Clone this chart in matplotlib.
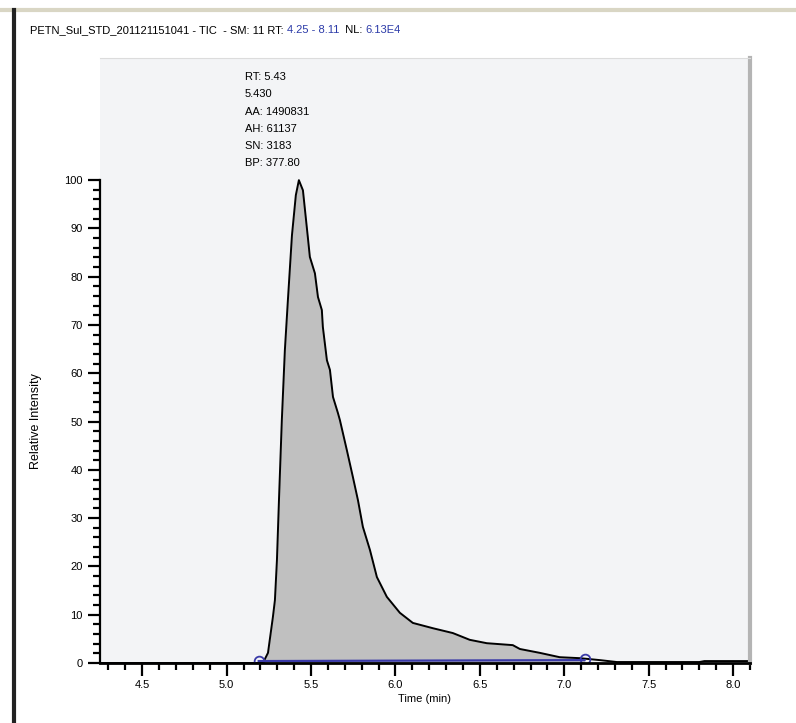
import numpy as np
import matplotlib
matplotlib.use('Agg')
import matplotlib.pyplot as plt
from matplotlib.ticker import MultipleLocator
from matplotlib.lines import Line2D

plt.rcParams['font.family'] = ['Liberation Sans', 'DejaVu Sans']

# chromatogram trace (time in min, relative intensity)
time_min = [4.25, 5.0, 5.215, 5.245, 5.274, 5.286, 5.298, 5.31, 5.327, 5.345, 5.363,
            5.387, 5.41, 5.428, 5.452, 5.481, 5.493, 5.523, 5.541, 5.564, 5.57,
            5.594, 5.612, 5.63, 5.659, 5.671, 5.712, 5.748, 5.778, 5.807, 5.849,
            5.89, 5.949, 6.026, 6.103, 6.222, 6.34, 6.44, 6.541, 6.695, 6.737,
            6.855, 6.973, 7.092, 7.21, 7.311, 7.8, 7.83, 8.1]
intensity = [0.0, 0.0, 0.0, 2.1, 9.5, 13.0, 21.3, 33.7, 50.3, 64.8, 75.2,
             88.6, 96.9, 100.0, 97.9, 88.2, 84.1, 80.7, 75.8, 73.1, 69.6,
             62.7, 60.7, 55.1, 51.8, 50.3, 44.1, 38.5, 33.7, 28.2, 23.4,
             17.8, 13.7, 10.4, 8.3, 7.2, 6.2, 4.8, 4.1, 3.7, 2.9,
             2.1, 1.2, 1.0, 0.6, 0.2, 0.2, 0.4, 0.4]

peak_start = 5.19
peak_end = 7.12
peak_info = ['RT: 5.43', '5.430', 'AA: 1490831', 'AH: 61137', 'SN: 3183', 'BP: 377.80']

t = np.array(time_min)
y = np.array(intensity)

fig = plt.figure(figsize=(7.96, 7.23), dpi=100)
fig.patch.set_facecolor('white')

# window frame bits
fig.add_artist(Line2D([0, 1], [1 - 10 / 723, 1 - 10 / 723], color='#d9d6c4', lw=3))
fig.add_artist(Line2D([14 / 796, 14 / 796], [0, 1 - 10 / 723], color='#222222', lw=3))

ax = fig.add_axes([100 / 796, 60 / 723, 650 / 796, 605 / 723])
ax.set_facecolor('#f3f4f6')

mask = (t >= peak_start) & (t <= peak_end)
tf = np.concatenate([[peak_start], t[mask], [peak_end]])
yf = np.interp(tf, t, y)
ax.fill_between(tf, 0, yf, color='#c0c0c0', lw=0)
ax.plot(t, y, color='black', lw=1.4)

# baseline and integration markers
ax.plot([peak_start, peak_end], [0.4, 0.6], color='#3a3aa8', lw=1.6)
ax.plot([peak_start, peak_end], [0.4, 0.8], 'o', ms=7, mfc='none', mec='#3a3aa8', mew=1.3)

ax.set_xlim(4.25, 8.10)
ax.set_ylim(0, 125.3)

ax.xaxis.set_major_locator(MultipleLocator(0.5))
ax.xaxis.set_minor_locator(MultipleLocator(0.1))
ax.set_yticks(np.arange(0, 101, 10))
ax.set_yticks(np.arange(0, 101, 2), minor=True)
ax.tick_params(axis='both', which='major', length=9, width=1.6, labelsize=8, colors='black')
ax.tick_params(axis='both', which='minor', length=5, width=1.6)
ax.tick_params(axis='x', pad=3)
ax.set_xticklabels(['%.1f' % v for v in ax.get_xticks()])

ax.spines['left'].set_bounds(0, 100)
ax.spines['left'].set_linewidth(1.6)
ax.spines['bottom'].set_linewidth(2)
ax.spines['top'].set_color('#dcdcdc')
ax.spines['right'].set_color('#b4b4b4')
ax.spines['right'].set_linewidth(3)

ax.set_xlabel('Time (min)', fontsize=8, labelpad=3)
ax.set_ylabel('Relative Intensity', fontsize=9)
ax.yaxis.set_label_coords(-58 / 650, (663 - 421) / 605)

# peak label block
for i, line in enumerate(peak_info):
    fig.text(245 / 796, 1 - (77 + 17.3 * i) / 723, line, fontsize=8, va='center', ha='left')

# header
x0 = 30 / 796
yh = 1 - 30 / 723
parts = [('PETN_Sul_STD_201121151041 - TIC  - SM: 11 RT: ', 'black'),
         ('4.25 - 8.11', '#2b3aa8'), ('  NL: ', 'black'), ('6.13E4', '#2b3aa8')]
fig.canvas.draw()
renderer = fig.canvas.get_renderer()
for txt, col in parts:
    tt = fig.text(x0, yh, txt, fontsize=8, color=col, va='center', ha='left')
    bb = tt.get_window_extent(renderer)
    x0 += bb.width / fig.bbox.width

fig.savefig('out.png', dpi=100)
